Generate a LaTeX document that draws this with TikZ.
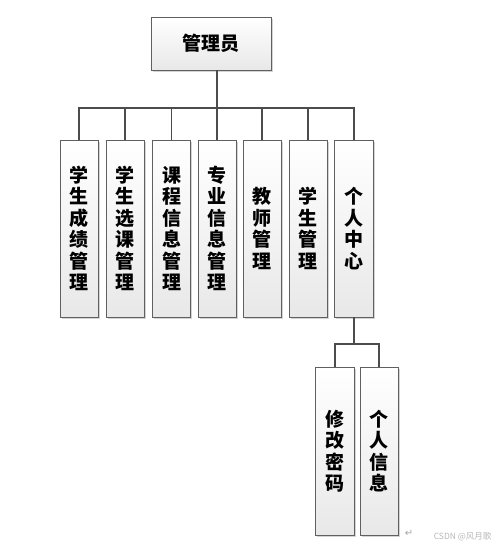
\documentclass[tikz,border=0pt]{standalone}
\usepackage{fontspec}
\newfontfamily\cjk{Noto Sans CJK SC}
\newfontfamily\dejavu{DejaVu Sans}
\usetikzlibrary{shadows}
\begin{document}
\begin{tikzpicture}[x=1pt,y=-1pt,
  box/.style={draw=gray!75!black, line width=0.7pt, top color=white, bottom color=gray!18,
    drop shadow={shadow xshift=1.6pt,shadow yshift=-1.6pt,fill=gray!60,opacity=0.55},
    font=\cjk\bfseries\fontsize{19}{21.5}\selectfont, align=center, inner sep=0pt},
  col/.style={box, minimum width=38pt, minimum height=177pt},
  sub/.style={box, minimum width=39pt, minimum height=168pt},
  conn/.style={draw=black!70, line width=1.3pt}]
\useasboundingbox (0,0) rectangle (500,545);
\fill[white] (0,0) rectangle (500,545);
\node[box, minimum width=120pt, minimum height=53pt] (top) at (211,43.5) {管理员};
\node[col] (c1) at (79,228.5) {学\\生\\成\\绩\\管\\理};
\node[col] (c2) at (125,228.5) {学\\生\\选\\课\\管\\理};
\node[col] (c3) at (171.5,228.5) {课\\程\\信\\息\\管\\理};
\node[col] (c4) at (217,228.5) {专\\业\\信\\息\\管\\理};
\node[col] (c5) at (262,228.5) {教\\师\\管\\理};
\node[col] (c6) at (308,228.5) {学\\生\\管\\理};
\node[col, minimum width=39pt] (c7) at (354,228.5) {个\\人\\中\\心};
\node[sub] (s1) at (335,451) {修\\改\\密\\码};
\node[sub, minimum width=38pt] (s2) at (379,451) {个\\人\\信\\息};
\coordinate (bus) at (0,108);
\coordinate (subbus) at (0,344);
\draw[conn] (top.south -| c4.north) -- (c4.north);
\draw[conn] (c1.north) -- (c1.north |- bus) -- (c7.north |- bus) -- (c7.north);
\foreach \n in {c2,c3,c5,c6} \draw[conn] (\n.north) -- (\n.north |- bus);
\draw[conn] (c7.south) -- (c7.south |- subbus);
\draw[conn] (s1.north) -- (s1.north |- subbus) -- (s2.north |- subbus) -- (s2.north);
\node[text=gray!70, font=\dejavu\fontsize{10}{11}\selectfont] (ret) at (409,533) {↵};
\node[text=gray!55, font=\cjk\fontsize{8.5}{9}\selectfont, anchor=east] (wm) at (495,537) {CSDN @风月歌};
\end{tikzpicture}
\end{document}
